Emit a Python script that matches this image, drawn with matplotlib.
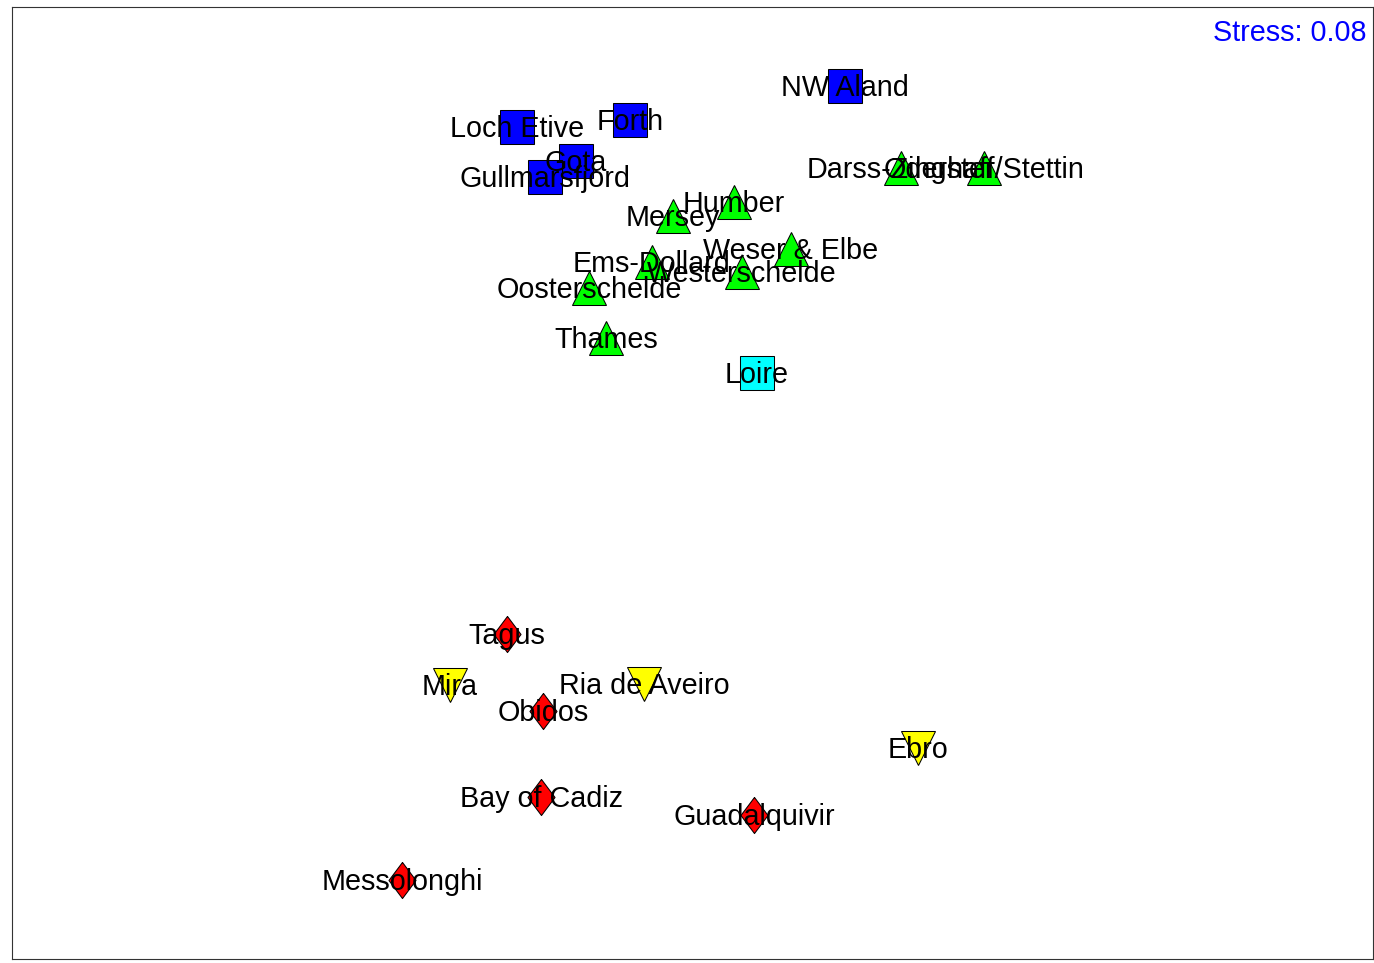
import matplotlib
matplotlib.use("Agg")
from matplotlib import pyplot as plt

plt.rcParams["font.family"] = ["Liberation Sans", "DejaVu Sans"]

# NMDS scores
sites = ["NW Aland", "Forth", "Loch Etive", "Gota", "Gullmarsfjord",
         "Loire",
         "Darss-Zingster", "Oderhaff/Stettin", "Humber", "Mersey", "Weser & Elbe",
         "Ems-Dollard", "Westerschelde", "Oosterschelde", "Thames",
         "Tagus", "Obidos", "Bay of Cadiz", "Guadalquivir", "Messolonghi",
         "Mira", "Ria de Aveiro", "Ebro"]
nmds1 = [0.310, -0.120, -0.346, -0.228, -0.290,
         0.134,
         0.422, 0.588, 0.088, -0.034, 0.202,
         -0.076, 0.104, -0.202, -0.168,
         -0.366, -0.294, -0.298, 0.128, -0.576,
         -0.480, -0.092, 0.456]
nmds2 = [0.788, 0.720, 0.706, 0.638, 0.606,
         0.214,
         0.624, 0.624, 0.556, 0.528, 0.462,
         0.436, 0.416, 0.384, 0.284,
         -0.308, -0.462, -0.634, -0.670, -0.800,
         -0.410, -0.408, -0.536]
groups = ["a"] * 5 + ["b"] + ["c"] * 9 + ["d"] * 5 + ["e"] * 3
stress = 0.08

diamond = [(0, 1), (0.75, 0), (0, -1), (-0.75, 0), (0, 1)]
style = {
    "a": dict(marker="s", color="#0000ff", ms=24.5),
    "b": dict(marker="s", color="#00ffff", ms=24.5),
    "c": dict(marker="^", color="#00ff00", ms=24.5),
    "d": dict(marker=diamond, color="#ff0000", ms=26),
    "e": dict(marker="v", color="#ffff00", ms=25),
}

fig = plt.figure(figsize=(13.74, 9.63), dpi=100)
ax = fig.add_axes([12 / 1374, 4 / 963, 1361 / 1374, 952 / 963])

for g, st in style.items():
    xs = [x for x, gg in zip(nmds1, groups) if gg == g]
    ys = [y for y, gg in zip(nmds2, groups) if gg == g]
    ax.plot(xs, ys, linestyle="none", marker=st["marker"], ms=st["ms"],
            markerfacecolor=st["color"], markeredgecolor="black",
            markeredgewidth=0.75)

for name, x, y in zip(sites, nmds1, nmds2):
    ax.annotate(name, (x, y), xytext=(0, -7.4), textcoords="offset points",
                ha="center", va="baseline", fontsize=20.7, color="black")

ax.annotate(f"Stress: {stress:.2f}", (1, 1), xycoords="axes fraction",
            xytext=(-5, -24.5), textcoords="offset points",
            ha="right", va="baseline", fontsize=20.7, color="#0000ff")

ax.set_xlim(-1.356, 1.366)
ax.set_ylim(-0.958, 0.946)
ax.set_xticks([])
ax.set_yticks([])
for sp in ax.spines.values():
    sp.set_linewidth(0.8)
    sp.set_color("#333333")

fig.savefig("out.png", dpi=100)
